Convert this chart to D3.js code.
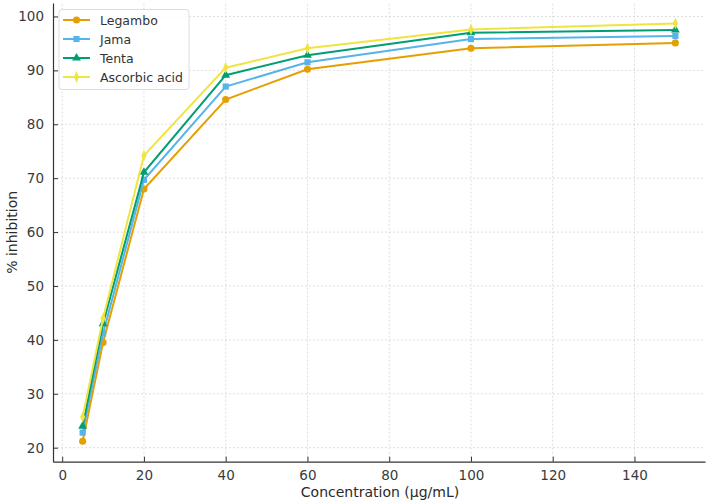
<html>
<head>
<script src="https://d3js.org/d3.v7.min.js"></script>
<style>
  body { margin: 0; background: #fff; }
  svg text { font-family: "DejaVu Sans", sans-serif; }
</style>
</head>
<body>
<script>
const concentrations = [5, 10, 20, 40, 60, 100, 150];
const legambo = [21.2, 39.5, 68.0, 84.6, 90.2, 94.1, 95.1];
const jama = [22.8, 41.2, 69.7, 87.0, 91.5, 95.8, 96.4];
const tenta = [24.0, 43.0, 71.1, 89.1, 92.8, 97.0, 97.5];
const ascorbic = [25.7, 44.0, 74.2, 90.5, 94.1, 97.6, 98.7];
const seriesNames = ["Legambo", "Jama", "Tenta", "Ascorbic acid"];
const xTicks = [0, 20, 40, 60, 80, 100, 120, 140];
const yTicks = [20, 30, 40, 50, 60, 70, 80, 90, 100];

const colors = ["#E69F00", "#56B4E9", "#009E73", "#F0E442"];
const symbols = [d3.symbolCircle, d3.symbolSquare, d3.symbolTriangle, d3.symbolDiamond];
const symSizes = [40, 38, 34, 40];
const series = [legambo, jama, tenta, ascorbic].map((vals, i) => ({
  name: seriesNames[i],
  values: vals.map((v, j) => ({ x: concentrations[j], y: v }))
}));

const w = 709, h = 504;
const svg = d3.select("body").append("svg").attr("width", w).attr("height", h);

const x = d3.scaleLinear().domain([-2.25, 157.25]).range([53, 705]);
const y = d3.scaleLinear().domain([17.4, 102.5]).range([461.7, 3]);

// grid
svg.append("g").selectAll("line").data(xTicks).join("line")
  .attr("x1", d => x(d)).attr("x2", d => x(d))
  .attr("y1", y.range()[0]).attr("y2", y.range()[1])
  .attr("stroke", "#d5d5d5").attr("stroke-dasharray", "2,2").attr("stroke-width", 0.8);
svg.append("g").selectAll("line").data(yTicks).join("line")
  .attr("y1", d => y(d)).attr("y2", d => y(d))
  .attr("x1", x.range()[0]).attr("x2", x.range()[1])
  .attr("stroke", "#d5d5d5").attr("stroke-dasharray", "2,2").attr("stroke-width", 0.8);

// axes
const xAxis = svg.append("g")
  .attr("transform", "translate(0," + y.range()[0] + ")")
  .call(d3.axisBottom(x).tickValues(xTicks).tickSizeInner(-5).tickSizeOuter(0).tickPadding(9));
const yAxis = svg.append("g")
  .attr("transform", "translate(" + x.range()[0] + ",0)")
  .call(d3.axisLeft(y).tickValues(yTicks).tickSizeInner(-5).tickSizeOuter(0).tickPadding(9));
[xAxis, yAxis].forEach(a => {
  a.select(".domain").attr("stroke", "#333").attr("stroke-width", 1.2);
  a.selectAll(".tick line").attr("stroke", "#333");
  a.selectAll(".tick text").attr("fill", "#3a3a3a").style("font-size", "13.5px");
});

svg.append("text")
  .attr("x", 380).attr("y", 497)
  .attr("text-anchor", "middle").attr("fill", "#2a2a2a").style("font-size", "14px")
  .text("Concentration (μg/mL)");
svg.append("text")
  .attr("transform", "translate(17," + (y.range()[0] + y.range()[1]) / 2 + ") rotate(-90)")
  .attr("text-anchor", "middle").attr("fill", "#2a2a2a").style("font-size", "14px")
  .text("% inhibition");

// lines and markers
const line = d3.line().x(d => x(d.x)).y(d => y(d.y));
series.forEach((s, i) => {
  svg.append("path").datum(s.values)
    .attr("d", line).attr("fill", "none")
    .attr("stroke", colors[i]).attr("stroke-width", 2);
  svg.append("g").selectAll("path").data(s.values).join("path")
    .attr("transform", d => "translate(" + x(d.x) + "," + y(d.y) + ")" + (i === 3 ? " scale(0.75,1)" : ""))
    .attr("d", d3.symbol().type(symbols[i]).size(symSizes[i]))
    .attr("fill", colors[i]);
});

// legend
const lg = svg.append("g");
lg.append("rect")
  .attr("x", 59).attr("y", 9.5).attr("width", 130).attr("height", 80).attr("rx", 3)
  .attr("fill", "#fff").attr("fill-opacity", 0.85).attr("stroke", "#dcdcdc");
series.forEach((s, i) => {
  const ly = 20 + i * 19;
  lg.append("line").attr("x1", 63).attr("x2", 90).attr("y1", ly).attr("y2", ly)
    .attr("stroke", colors[i]).attr("stroke-width", 2);
  lg.append("path")
    .attr("transform", "translate(76.5," + ly + ")" + (i === 3 ? " scale(0.75,1)" : ""))
    .attr("d", d3.symbol().type(symbols[i]).size(symSizes[i]))
    .attr("fill", colors[i]);
  lg.append("text").attr("x", 100).attr("y", ly + 4.5)
    .attr("fill", "#333").style("font-size", "12.5px").text(s.name);
});
</script>
</body>
</html>
